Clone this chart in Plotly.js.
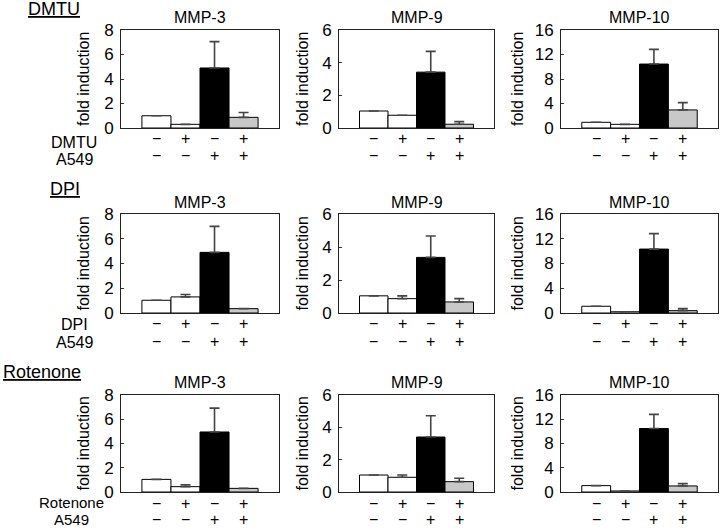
<!DOCTYPE html>
<html>
<head>
<meta charset="utf-8">
<script src="https://cdn.plot.ly/plotly-3.0.1.min.js"></script>
<style>html,body{margin:0;padding:0;background:#fff;}#chart{width:720px;height:528px;}</style>
</head>
<body>
<div id="chart"></div>
<script>
// ---------- data ----------
const genes = ['MMP-3', 'MMP-9', 'MMP-10'];
const treatments = ['DMTU', 'DPI', 'Rotenone'];
const groups = ['control', 'inhibitor', 'A549', 'A549 + inhibitor'];
const inhibitorSigns = ['−', '+', '−', '+'];
const a549Signs = ['−', '−', '+', '+'];
const barColors = ['#ffffff', '#ffffff', '#000000', '#c8c8c8'];
const yMax = [8, 6, 16];
const yStep = [2, 2, 4];

// mean fold induction and upper error (SD); null = no error bar visible
const dmtu_mmp3 = [1.0, 0.3, 4.9, 0.87];
const dmtu_mmp3_err = [null, null, 2.15, 0.39];
const dmtu_mmp9 = [1.04, 0.78, 3.42, 0.23];
const dmtu_mmp9_err = [null, null, 1.27, 0.16];
const dmtu_mmp10 = [0.93, 0.6, 10.44, 2.95];
const dmtu_mmp10_err = [null, null, 2.4, 1.2];

const dpi_mmp3 = [1.03, 1.3, 4.9, 0.35];
const dpi_mmp3_err = [null, 0.19, 2.1, null];
const dpi_mmp9 = [1.04, 0.87, 3.37, 0.67];
const dpi_mmp9_err = [null, 0.17, 1.3, 0.2];
const dpi_mmp10 = [1.09, 0.2, 10.33, 0.38];
const dpi_mmp10_err = [null, null, 2.5, 0.33];

const rot_mmp3 = [1.04, 0.44, 4.95, 0.3];
const rot_mmp3_err = [null, 0.16, 1.97, null];
const rot_mmp9 = [1.05, 0.91, 3.4, 0.64];
const rot_mmp9_err = [null, 0.14, 1.32, 0.21];
const rot_mmp10 = [1.05, 0.17, 10.47, 1.0];
const rot_mmp10_err = [null, null, 2.33, 0.38];

const values = [
  [dmtu_mmp3, dmtu_mmp9, dmtu_mmp10],
  [dpi_mmp3, dpi_mmp9, dpi_mmp10],
  [rot_mmp3, rot_mmp9, rot_mmp10]
];
const errors = [
  [dmtu_mmp3_err, dmtu_mmp9_err, dmtu_mmp10_err],
  [dpi_mmp3_err, dpi_mmp9_err, dpi_mmp10_err],
  [rot_mmp3_err, rot_mmp9_err, rot_mmp10_err]
];

// ---------- layout geometry (pixels) ----------
const W = 720, H = 528;
const colX = [[121, 279], [339, 494], [561, 718]];
const rowY = [[30, 128], [214, 313], [395, 492]];
const titleY = [18, 202, 382];
const headerLeft = [26, 48, 1];
const headerY = [9, 189, 372];
const sign1Y = [139, 323, 503];
const sign2Y = [156, 341, 519];
const label1Y = [142, 324, 502.5];
const label2Y = [159, 342, 519.5];
const labelX = [74, 74, 71.5];
const labelSize = [16, 16, 15];
const ytitleOffset = [38, 37, 44];

const FONT = 'Liberation Sans, Arial, Helvetica, sans-serif';
const px = x => x / W;
const py = y => 1 - y / H;

const traces = [];
const annotations = [];
const layout = {
  width: W, height: H,
  margin: {l: 0, r: 0, t: 0, b: 0},
  paper_bgcolor: '#fff', plot_bgcolor: '#fff',
  showlegend: false,
  bargap: 0,
  font: {family: FONT, size: 16, color: '#000'},
  annotations: annotations
};

for (let r = 0; r < 3; r++) {
  for (let c = 0; c < 3; c++) {
    const idx = r * 3 + c + 1;
    const xa = 'xaxis' + (idx === 1 ? '' : idx);
    const ya = 'yaxis' + (idx === 1 ? '' : idx);
    const xr = 'x' + (idx === 1 ? '' : idx);
    const yr = 'y' + (idx === 1 ? '' : idx);
    const errArr = errors[r][c];
    traces.push({
      type: 'bar',
      x: groups,
      y: values[r][c],
      xaxis: xr, yaxis: yr,
      marker: {color: barColors, line: {color: '#000', width: 1}},
      error_y: {
        type: 'data', symmetric: false,
        array: errArr,
        arrayminus: errArr.map(() => 0),
        color: '#444', thickness: 1.6, width: 5
      },
      hoverinfo: 'y'
    });
    layout[xa] = {
      domain: [px(colX[c][0]), px(colX[c][1])],
      anchor: yr,
      type: 'category',
      range: [-1.22, 4.22],
      showticklabels: false, ticks: '',
      showgrid: false, zeroline: false,
      showline: true, mirror: true, linecolor: '#222', linewidth: 1
    };
    layout[ya] = {
      domain: [py(rowY[r][1]), py(rowY[r][0])],
      anchor: xr,
      range: [0, yMax[c]],
      dtick: yStep[c], tick0: 0,
      ticks: 'inside', ticklen: 3, tickcolor: '#333',
      ticklabelstandoff: 3,
      tickfont: {family: FONT, size: 17, color: '#000'},
      showgrid: false, zeroline: false,
      showline: true, mirror: true, linecolor: '#222', linewidth: 1
    };
    // panel title
    annotations.push({
      text: genes[c], xref: 'paper', yref: 'paper',
      x: px((colX[c][0] + colX[c][1]) / 2), y: py(titleY[r]),
      xanchor: 'center', yanchor: 'middle', showarrow: false,
      font: {family: FONT, size: 16}
    });
    // y axis title
    annotations.push({
      text: 'fold induction', xref: 'paper', yref: 'paper',
      x: px(colX[c][0] - ytitleOffset[c]), y: py((rowY[r][0] + rowY[r][1]) / 2),
      xanchor: 'center', yanchor: 'middle', textangle: -90, showarrow: false,
      font: {family: FONT, size: 16}
    });
    // condition signs
    for (let g = 0; g < groups.length; g++) {
      annotations.push({
        text: inhibitorSigns[g], xref: xr, yref: 'paper',
        x: groups[g], y: py(sign1Y[r]),
        xanchor: 'center', yanchor: 'middle', showarrow: false,
        font: {family: FONT, size: 16}
      });
      annotations.push({
        text: a549Signs[g], xref: xr, yref: 'paper',
        x: groups[g], y: py(sign2Y[r]),
        xanchor: 'center', yanchor: 'middle', showarrow: false,
        font: {family: FONT, size: 16}
      });
    }
  }
  // section header
  annotations.push({
    text: '<u>' + treatments[r] + '</u>', xref: 'paper', yref: 'paper',
    x: px(headerLeft[r]), y: py(headerY[r]),
    xanchor: 'left', yanchor: 'middle', showarrow: false,
    font: {family: FONT, size: 18}
  });
  // row labels
  annotations.push({
    text: treatments[r], xref: 'paper', yref: 'paper',
    x: px(labelX[r]), y: py(label1Y[r]),
    xanchor: 'center', yanchor: 'middle', showarrow: false,
    font: {family: FONT, size: labelSize[r]}
  });
  annotations.push({
    text: 'A549', xref: 'paper', yref: 'paper',
    x: px(labelX[r]), y: py(label2Y[r]),
    xanchor: 'center', yanchor: 'middle', showarrow: false,
    font: {family: FONT, size: labelSize[r]}
  });
}

Plotly.newPlot('chart', traces, layout, {staticPlot: true, displayModeBar: false});
</script>
</body>
</html>
